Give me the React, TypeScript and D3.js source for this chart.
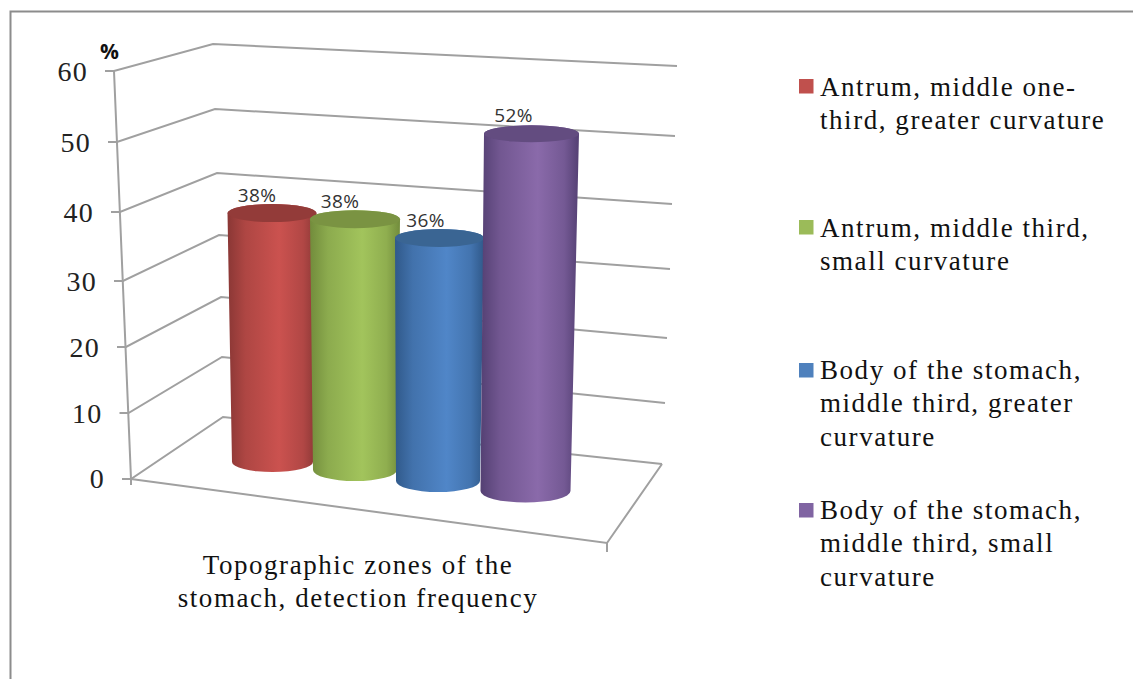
import React from "react";
import * as d3 from "d3";

const seriesNames = ["Antrum middle greater", "Antrum middle small", "Body middle greater", "Body middle small"];
const seriesValues = [38, 38, 36, 52];
const valueLabels = ["38%", "38%", "36%", "52%"];
const legendLines = [
  ["Antrum, middle one-", "third, greater curvature"],
  ["Antrum, middle third,", "small curvature"],
  ["Body of the stomach,", "middle third, greater", "curvature"],
  ["Body of the stomach,", "middle third, small", "curvature"],
];
const axisTitleLines = ["Topographic zones of the", "stomach, detection frequency"];
const valueTicks = [0, 10, 20, 30, 40, 50, 60];
const barEdge = ["#8a3735", "#728c3c", "#30598a", "#544073"];
const barLight = ["#cb524f", "#a2c45c", "#5086c8", "#8a6aaa"];
const barTop = ["#933b39", "#7a9342", "#3a6593", "#634c80"];
const legendColors = ["#c0504d", "#9bbb59", "#4f81bd", "#8064a2"];

// projection of the 3-D box onto the page
const frontX = d3.scaleLinear().domain(valueTicks).range([131, 128.5, 126, 123, 120, 117, 114]);
const frontY = d3.scaleLinear().domain(valueTicks).range([479, 413, 347, 281, 212, 142, 71]);
const backX = d3.scaleLinear().domain(valueTicks).range([223, 222, 221, 219, 217, 215, 213]);
const backY = d3.scaleLinear().domain(valueTicks).range([417, 357, 297, 235, 173, 109, 44]);
const rightX = d3.scaleLinear().domain(valueTicks).range([662, 665, 667, 670, 672, 675, 677]);
const rightY = d3.scaleLinear().domain(valueTicks).range([464, 403, 338, 269, 204, 136, 66]);

const idx = seriesNames.map((_, i) => i);
const baseCx = d3.scaleOrdinal<number, number>().domain(idx).range([272.5, 355, 438, 525.5]);
const baseY = d3.scaleOrdinal<number, number>().domain(idx).range([462, 470, 481, 491]);
const baseRx = d3.scaleOrdinal<number, number>().domain(idx).range([40.5, 42, 42, 45]);
const baseRy = d3.scaleOrdinal<number, number>().domain(idx).range([10, 11, 11, 11.5]);
const topCx = d3.scaleOrdinal<number, number>().domain(idx).range([272, 355, 439.5, 531.5]);
const topRx = d3.scaleOrdinal<number, number>().domain(idx).range([44.5, 45, 44.5, 47.5]);
const topRy = d3.scaleOrdinal<number, number>().domain(idx).range([9, 9, 9, 8.5]);
const unitPx = d3.scaleOrdinal<number, number>().domain(idx).range([6.55, 6.6, 6.75, 6.87]);

const legendY = d3.scaleOrdinal<number, number>().domain(idx).range([79, 220, 363, 503]);
const legendBase = d3.scaleOrdinal<number, number>().domain(idx).range([96, 237, 379, 519]);

const serif = "'Liberation Serif', serif";
const sans = "'Open Sans', sans-serif";
const gridColor = "#a0a0a0";
const gridWidth = 2;

export default function App() {
  const stubLen = 9;
  return (
    <svg width={1133} height={679} viewBox="0 0 1133 679" style={{ position: "absolute", left: 0, top: 0, background: "#fff" }}>
      <defs>
        {idx.map((i) => (
          <linearGradient key={i} id={`cyl${i}`} x1="0" x2="1" y1="0" y2="0">
            <stop offset="0" stopColor={barEdge[i]} />
            <stop offset="0.2" stopColor={d3.interpolateRgb(barEdge[i], barLight[i])(0.55)} />
            <stop offset="0.58" stopColor={barLight[i]} />
            <stop offset="0.85" stopColor={d3.interpolateRgb(barEdge[i], barLight[i])(0.6)} />
            <stop offset="1" stopColor={barEdge[i]} />
          </linearGradient>
        ))}
      </defs>
      <path d="M10.5,679V11.5H1133" fill="none" stroke="#8c8c8c" strokeWidth={2} />

      {valueTicks.map((t) => (
        <g key={t}>
          <path
            d={d3.line()([
              [frontX(t) - stubLen, frontY(t)],
              [frontX(t), frontY(t)],
              [backX(t), backY(t)],
              [rightX(t), rightY(t)],
            ]) as string}
            fill="none"
            stroke={gridColor}
            strokeWidth={gridWidth}
          />
          <text
            x={frontX(t) - 26}
            y={frontY(t) + (t === 0 ? 9 : 10)}
            textAnchor="end"
            fontFamily={serif}
            fontSize={28}
            letterSpacing={1.2}
            fill="#222"
          >
            {t}
          </text>
        </g>
      ))}
      <path
        d={d3.line()([
          [frontX(60), frontY(60)],
          [frontX(0), frontY(0)],
          [frontX(0), frontY(0) + 6],
        ]) as string}
        fill="none"
        stroke={gridColor}
        strokeWidth={gridWidth}
      />
      <path
        d={d3.line()([
          [frontX(0), frontY(0)],
          [607, 543],
          [rightX(0), rightY(0)],
        ]) as string}
        fill="none"
        stroke={gridColor}
        strokeWidth={gridWidth}
      />
      <path d={d3.line()([[607, 543], [607, 552]]) as string} fill="none" stroke={gridColor} strokeWidth={gridWidth} />

      <text x={100} y={59} fontFamily={sans} fontWeight={700} fontSize={21} fill="#111">%</text>

      {idx.map((i) => {
        const by = baseY(i);
        const ty = by - seriesValues[i] * unitPx(i);
        const bc = baseCx(i);
        const tc = topCx(i);
        const brx = baseRx(i);
        const bry = baseRy(i);
        const trx = topRx(i);
        const tryy = topRy(i);
        const body = `M${tc - trx},${ty}L${bc - brx},${by}A${brx},${bry} 0 0 0 ${bc + brx},${by}L${tc + trx},${ty}A${trx},${tryy} 0 0 0 ${tc - trx},${ty}Z`;
        return (
          <g key={i}>
            <path d={body} fill={`url(#cyl${i})`} />
            <ellipse cx={tc} cy={ty} rx={trx} ry={tryy} fill={barTop[i]} />
          </g>
        );
      })}

      {idx.map((i) => {
        const by = baseY(i);
        const ty = by - seriesValues[i] * unitPx(i);
        return (
          <text
            key={i}
            x={topCx(i) - (i === 3 ? 18 : i === 0 ? 15 : i === 1 ? 15 : 14)}
            y={ty - 11 - (i === 3 ? 1 : 0)}
            textAnchor="middle"
            fontFamily={sans}
            fontSize={19}
            letterSpacing={0.4}
            fill="#333"
          >
            {valueLabels[i]}
          </text>
        );
      })}

      {axisTitleLines.map((line, j) => (
        <text key={j} x={358} y={574 + j * 32.5} textAnchor="middle" fontFamily={serif} fontSize={27} letterSpacing={1.55} fill="#111">
          {line}
        </text>
      ))}

      {idx.map((i) => (
        <g key={i}>
          <rect x={799} y={legendY(i)} width={14.5} height={14.5} fill={legendColors[i]} />
          {legendLines[i].map((line, j) => (
            <text key={j} x={820} y={legendBase(i) + j * 33.3} fontFamily={serif} fontSize={27} letterSpacing={1.55} fill="#111">
              {line}
            </text>
          ))}
        </g>
      ))}
    </svg>
  );
}
